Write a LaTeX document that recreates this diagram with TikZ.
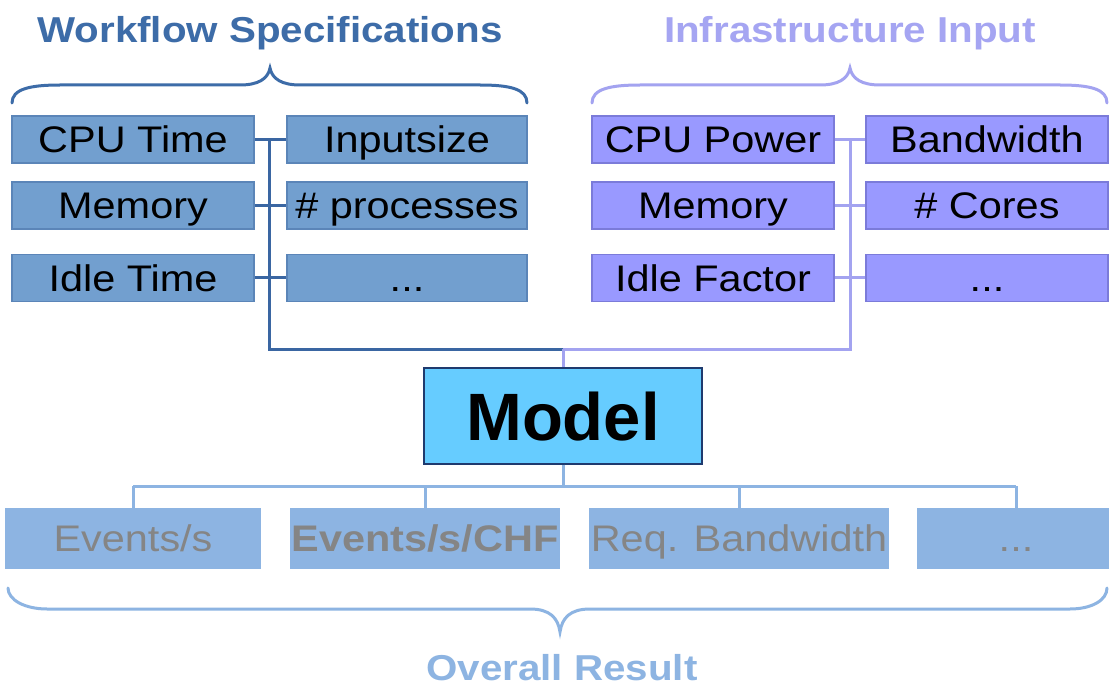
\documentclass[tikz,border=0pt]{standalone}
\usepackage{fontspec}
\setmainfont{Liberation Sans}
\newfontfamily\wide{Liberation Sans}[FakeStretch=1.12]
\definecolor{lfill}{HTML}{729FCF}
\definecolor{ldraw}{HTML}{5B85B8}
\definecolor{lline}{HTML}{3A66A2}
\definecolor{lhead}{HTML}{3D6CA8}
\definecolor{rfill}{HTML}{9999FF}
\definecolor{rdraw}{HTML}{7B7BD9}
\definecolor{rline}{HTML}{A3A3F0}
\definecolor{rhead}{HTML}{A5A5F2}
\definecolor{mfill}{HTML}{66CCFF}
\definecolor{mdraw}{HTML}{1F3A6E}
\definecolor{bfill}{HTML}{8DB4E2}
\definecolor{bline}{HTML}{8DB4E2}
\definecolor{btext}{HTML}{858585}
\tikzset{
  boxtext/.style={font=\wide\fontsize{37}{40}\selectfont, text height=26.5pt, text depth=0pt, inner sep=0pt, align=center},
  lbox/.style={boxtext, draw=ldraw, fill=lfill, line width=1.2pt, minimum height=47pt},
  rbox/.style={boxtext, draw=rdraw, fill=rfill, line width=1.2pt, minimum height=47pt},
  bbox/.style={boxtext, fill=bfill, text=btext, minimum height=61pt},
  lconn/.style={draw=lline, line width=3pt},
  rconn/.style={draw=rline, line width=3pt},
  bconn/.style={draw=bline, line width=3pt},
  head/.style={font=\wide\bfseries\fontsize{36}{40}\selectfont, anchor=base, inner sep=0pt}
}
\begin{document}
\begin{tikzpicture}[x=1pt,y=-1pt]
\useasboundingbox (0,0) rectangle (1109,687);
\fill[white] (0,0) rectangle (1109,687);

% headings
\node[head, text=lhead] (wsh) at (270,43) {Workflow Specifications};
\node[head, text=rhead] (iih) at (850,43) {Infrastructure Input};

% braces
\draw[lconn, draw=lhead, line cap=round] (12,103) .. controls (12,89) and (30,85) .. (60,85) -- (240,85) .. controls (258,85) and (268,79) .. (270,68) .. controls (272,79) and (282,85) .. (300,85) -- (480,85) .. controls (510,85) and (527,89) .. (527,103);
\draw[rconn, line cap=round] (592,103) .. controls (592,89) and (610,85) .. (640,85) -- (820,85) .. controls (838,85) and (848,79) .. (850,68) .. controls (852,79) and (862,85) .. (880,85) -- (1060,85) .. controls (1090,85) and (1107,89) .. (1107,103);

% left boxes
\node[lbox, minimum width=242pt] (cpu) at (133,139.5) {CPU Time};
\node[lbox, minimum width=242pt] (mem) at (133,205.5) {Memory};
\node[lbox, minimum width=242pt] (idle) at (133,278) {Idle Time};
\node[lbox, minimum width=240pt] (inp) at (407,139.5) {Inputsize};
\node[lbox, minimum width=240pt] (proc) at (407,205.5) {\# processes};
\node[lbox, minimum width=240pt] (ldots) at (407,278) {...};

% right boxes
\node[rbox, minimum width=242pt] (cpup) at (713,139.5) {CPU Power};
\node[rbox, minimum width=242pt] (rmem) at (713,205.5) {Memory};
\node[rbox, minimum width=242pt] (idlef) at (713,278) {Idle Factor};
\node[rbox, minimum width=242pt] (bw) at (987,139.5) {Bandwidth};
\node[rbox, minimum width=242pt] (cores) at (987,205.5) {\# Cores};
\node[rbox, minimum width=242pt] (rdots) at (987,278) {...};

% model
\node[draw=mdraw, fill=mfill, line width=1.2pt, minimum width=278pt, minimum height=96pt, inner sep=0pt,
      font=\bfseries\fontsize{67}{70}\selectfont, text height=48pt, text depth=0pt] (model) at (563,416) {Model};

% bottom boxes
\node[bbox, minimum width=256pt] (ev) at (133,538.5) {Events/s};
\node[bbox, minimum width=270pt, font=\wide\bfseries\fontsize{37}{40}\selectfont] (evchf) at (425,538.5) {Events/s/CHF};
\node[bbox, minimum width=300pt] (reqbw) at (739,538.5) {Req. Bandwidth};
\node[bbox, minimum width=198pt] (bdots) at (1016,538.5) {...};

% connector coordinates
\coordinate (ltop) at (269,139.5);
\coordinate (lbot) at (269,349);
\coordinate (rtop) at (850,139.5);
\coordinate (rbot) at (850,349);
\coordinate (mtop) at (563,349);
\coordinate (bhub) at (563,486);
\coordinate (bl) at (133,486);
\coordinate (br) at (1016,486);

% left connectors
\draw[lconn] (cpu.east) -- (inp.west);
\draw[lconn] (mem.east) -- (proc.west);
\draw[lconn] (idle.east) -- (ldots.west);
\draw[lconn, line join=miter] (ltop) -- (lbot) -- (mtop);

% right connectors
\draw[rconn] (cpup.east) -- (bw.west);
\draw[rconn] (rmem.east) -- (cores.west);
\draw[rconn] (idlef.east) -- (rdots.west);
\draw[rconn, line join=miter] (rtop) -- (rbot) -- (mtop);
\draw[rconn] (mtop) -- (model.north);

% bottom connectors
\draw[bconn] (model.south) -- (bhub);
\draw[bconn] (bl) -- (br);
\draw[bconn] (bl) -- (ev.north);
\draw[bconn] (evchf.north |- bhub) -- (evchf.north);
\draw[bconn] (reqbw.north |- bhub) -- (reqbw.north);
\draw[bconn] (br) -- (bdots.north);

% bottom brace
\draw[bconn, line cap=round] (8,588) .. controls (8,600) and (25,609) .. (47,609) -- (530,609) .. controls (550,609) and (558,618) .. (560,632) .. controls (562,618) and (570,609) .. (590,609) -- (1070,609) .. controls (1092,609) and (1107,600) .. (1107,588);

\node[font=\wide\bfseries\fontsize{36}{40}\selectfont, text=bfill, anchor=base, inner sep=0pt] (overall) at (562,680) {Overall Result};
\end{tikzpicture}
\end{document}
